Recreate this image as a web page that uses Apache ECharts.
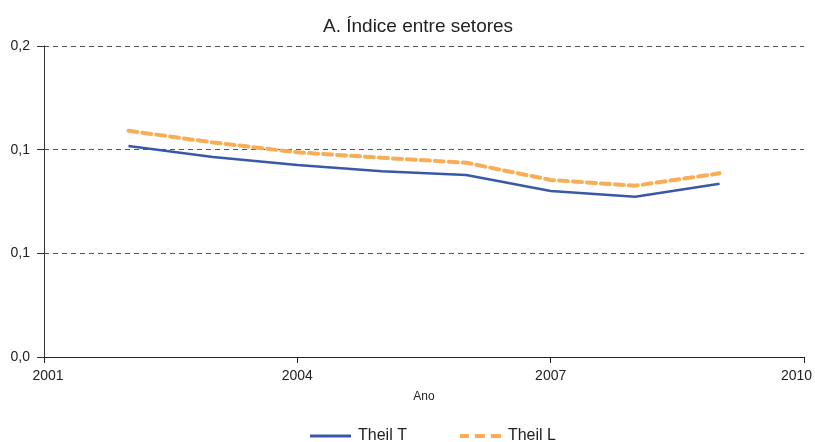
<!DOCTYPE html>
<html><head><meta charset="utf-8">
<script src="https://cdn.jsdelivr.net/npm/echarts@6/dist/echarts.min.js"></script>
<style>html,body{margin:0;padding:0;background:#fff}#c{width:815px;height:442px}</style>
</head><body><div id="c"></div>
<script>
const years = [2002, 2003, 2004, 2005, 2006, 2007, 2008, 2009];
const theilT = [0.1018, 0.0965, 0.0926, 0.0896, 0.0878, 0.0801, 0.0773, 0.0836];
const theilL = [0.1091, 0.1035, 0.0987, 0.0961, 0.0937, 0.0854, 0.0826, 0.0886];
const titleText = 'A. Índice entre setores';
const xName = 'Ano';

const fmtY = v => (Math.round(v * 10 + 1e-9) / 10).toFixed(1).replace('.', ',');
const fmtX = v => v === 2001 ? '{first|' + v + '}' : v === 2010 ? '{last|' + v + '}' : String(v);
const font = 'Liberation Sans, Arial, sans-serif';
const blue = '#3a58a8', orange = '#f9ad55';
const chart = echarts.init(document.getElementById('c'));
chart.setOption({
  animation: false,
  title: { text: titleText, left: 318, top: 12, textStyle: { fontFamily: font, fontSize: 19, fontWeight: 'normal', color: '#222' } },
  grid: { left: 44, right: 11, top: 46, bottom: 85, outerBoundsMode: 'none', containLabel: false },
  legend: {
    top: 423, left: 305, itemGap: 53, itemWidth: 41, itemHeight: 4,
    textStyle: { fontFamily: font, fontSize: 16, color: '#222', padding: [0, 0, 0, 2] },
    data: [
      { name: 'Theil T', icon: 'path://M0,0L41,0L41,3L0,3Z', itemStyle: { color: blue } },
      { name: 'Theil L', icon: 'path://M0,0L9,0L9,4L0,4Z M15,0L25,0L25,4L15,4Z M31,0L41,0L41,4L31,4Z', itemStyle: { color: orange } }
    ]
  },
  xAxis: {
    type: 'value', min: 2001, max: 2010, interval: 3,
    name: xName, nameLocation: 'middle', nameGap: 34,
    nameTextStyle: { fontFamily: font, fontSize: 12, color: '#222' },
    axisLine: { lineStyle: { color: '#222', width: 1 } },
    axisTick: { show: true, length: 6, lineStyle: { color: '#222' } },
    axisLabel: {
      formatter: fmtX, fontFamily: font, fontSize: 14, color: '#222', margin: 12,
      rich: {
        first: { fontFamily: font, fontSize: 14, color: '#222', padding: [0, 0, 0, 8] },
        last: { fontFamily: font, fontSize: 14, color: '#222', padding: [0, 15, 0, 0] }
      }
    },
    splitLine: { show: false }
  },
  yAxis: {
    type: 'value', min: 0, max: 0.15, interval: 0.05,
    axisLine: { show: true, lineStyle: { color: '#333', width: 1 } },
    axisTick: { show: true, length: 7, lineStyle: { color: '#333' } },
    axisLabel: { formatter: fmtY, fontFamily: font, fontSize: 14, color: '#222', margin: 14 },
    splitLine: { show: true, lineStyle: { color: '#555', type: [5, 4], width: 1 } }
  },
  series: [
    { name: 'Theil T', type: 'line', data: years.map((y, i) => [y, theilT[i]]), symbol: 'none',
      lineStyle: { color: blue, width: 2.5 }, itemStyle: { color: blue } },
    { name: 'Theil L', type: 'line', data: years.map((y, i) => [y, theilL[i]]), symbol: 'none',
      lineStyle: { color: orange, width: 4, type: [9, 5], cap: 'round' }, itemStyle: { color: orange } }
  ]
});
</script></body></html>
